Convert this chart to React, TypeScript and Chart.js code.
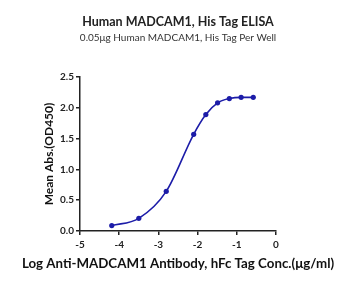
import React, { useEffect, useRef } from "react";
import { Chart, registerables } from "chart.js";

Chart.register(...registerables);

const logConc = [-4.19, -3.5, -2.8, -2.1, -1.79, -1.49, -1.19, -0.89, -0.58];
const meanAbs = [0.088, 0.206, 0.644, 1.57, 1.89, 2.08, 2.15, 2.17, 2.17];
const xTicks = [-5, -4, -3, -2, -1, 0];
const yTicks = [0, 0.5, 1.0, 1.5, 2.0, 2.5];

const titleText = "Human MADCAM1, His Tag ELISA";
const subtitleText = "0.05\u03bcg Human MADCAM1, His Tag Per Well";
const xTitle = "Log Anti-MADCAM1 Antibody, hFc Tag Conc.(\u03bcg/ml)";
const yTitle = "Mean Abs.(OD450)";

const BLUE = "#1c1ca8";
const FONT = "Lato, 'Noto Sans', sans-serif";

const textPlugin = {
  id: "extraText",
  afterDraw(chart: any) {
    const ctx = chart.ctx;
    const cx = (chart.chartArea.left + chart.chartArea.right) / 2;
    ctx.save();
    ctx.textAlign = "center";
    ctx.textBaseline = "middle";
    ctx.fillStyle = "#222";
    ctx.font = `bold 12.5px ${FONT}`;
    ctx.fillText(titleText, cx, 22);
    ctx.fillStyle = "#333";
    ctx.font = `10px ${FONT}`;
    ctx.fillText(subtitleText, cx, 37.5);
    ctx.fillStyle = "#111";
    ctx.font = `bold 13.3px ${FONT}`;
    ctx.fillText(xTitle, cx, 264);
    ctx.restore();
  },
};

export default function App() {
  const ref = useRef<HTMLCanvasElement>(null);
  useEffect(() => {
    if (!ref.current) return;
    const chart = new Chart(ref.current, {
      type: "line",
      data: {
        datasets: [
          {
            data: logConc.map((x, i) => ({ x, y: meanAbs[i] })),
            borderColor: BLUE,
            backgroundColor: BLUE,
            borderWidth: 1.6,
            pointRadius: 2.6,
            pointBorderWidth: 0,
            cubicInterpolationMode: "monotone",
            fill: false,
          },
        ],
      },
      plugins: [textPlugin],
      options: {
        animation: false,
        responsive: false,
        maintainAspectRatio: false,
        layout: { autoPadding: false, padding: { left: 42, right: 76, top: 77, bottom: 10 } },
        plugins: {
          legend: { display: false },
          tooltip: { enabled: false },
          title: { display: false },
          subtitle: { display: false },
        },
        scales: {
          x: {
            type: "linear",
            min: -5,
            max: 0,
            afterBuildTicks: (s: any) => {
              s.ticks = xTicks.map((v) => ({ value: v }));
            },
            afterFit: (s: any) => {
              s.height = 40;
            },
            grid: {
              display: true,
              drawOnChartArea: false,
              drawTicks: true,
              tickLength: 4,
              color: "#222",
              lineWidth: 1.5,
            },
            border: { display: true, color: "#222", width: 1.5 },
            ticks: {
              color: "#222",
              font: { family: FONT, size: 10, weight: "bold" },
              padding: 4,
              maxRotation: 0,
              callback: (v: any) => String(v),
            },
            title: { display: false },
          },
          y: {
            type: "linear",
            min: 0,
            max: 2.5,
            afterBuildTicks: (s: any) => {
              s.ticks = yTicks.map((v) => ({ value: v }));
            },
            afterFit: (s: any) => {
              s.width = 38;
            },
            grid: {
              display: true,
              drawOnChartArea: false,
              drawTicks: true,
              tickLength: 4,
              color: "#222",
              lineWidth: 1.5,
            },
            border: { display: true, color: "#222", width: 1.5 },
            ticks: {
              color: "#222",
              font: { family: FONT, size: 10, weight: "bold" },
              padding: 2,
              callback: (v: any) => Number(v).toFixed(1),
            },
            title: {
              display: true,
              text: yTitle,
              color: "#111",
              font: { family: FONT, size: 12, weight: "bold" },
              padding: { top: 0, bottom: 2 },
            },
          },
        },
      },
    });
    return () => chart.destroy();
  }, []);
  return (
    <div style={{ position: "fixed", left: 0, top: 0, width: 352, height: 281, background: "#fff" }}>
      <canvas ref={ref} width={352} height={281} style={{ width: 352, height: 281 }} />
    </div>
  );
}
